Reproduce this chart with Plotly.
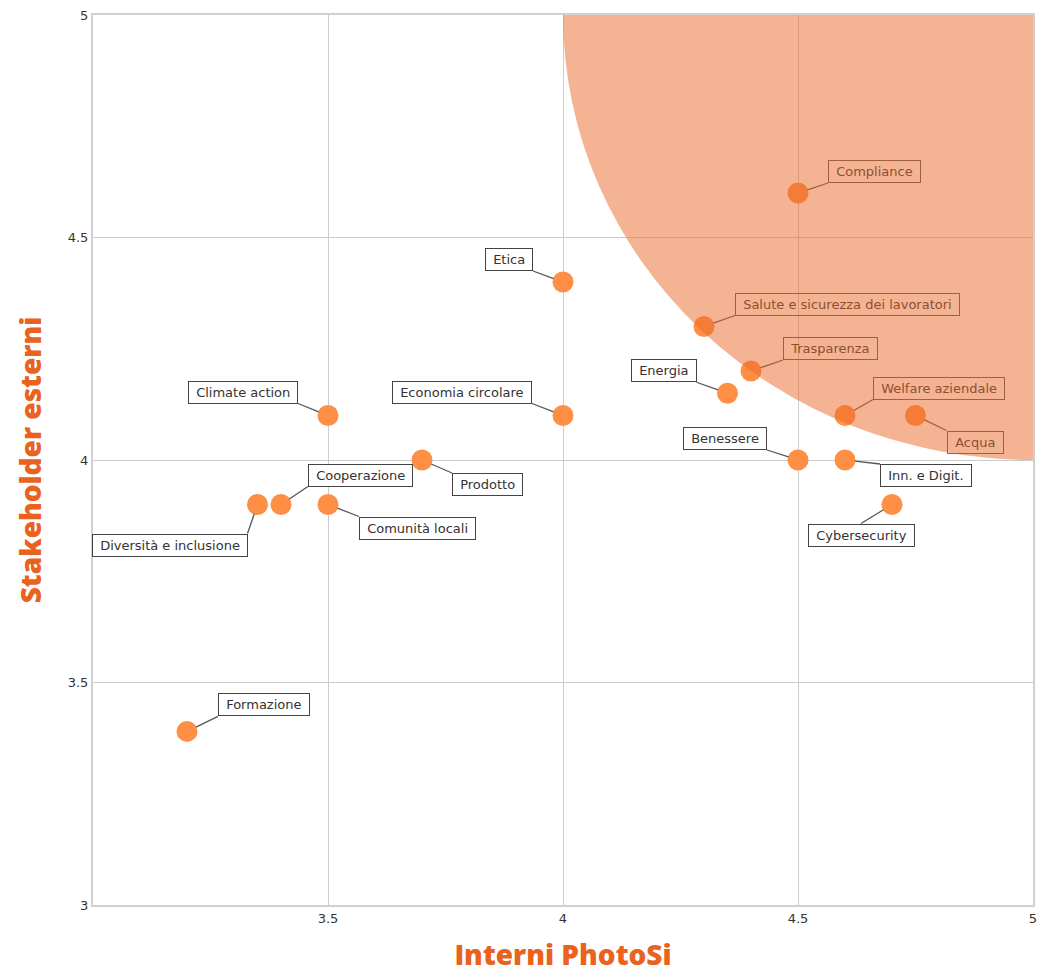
import plotly.graph_objects as go

# Material topics: internal score (x) vs external stakeholder score (y)
topics = [
    "Compliance", "Etica", "Salute e sicurezza dei lavoratori", "Trasparenza",
    "Energia", "Welfare aziendale", "Acqua", "Benessere", "Inn. e Digit.",
    "Cybersecurity", "Climate action", "Economia circolare", "Prodotto",
    "Cooperazione", "Diversità e inclusione", "Comunità locali", "Formazione",
]
interni = [4.5, 4.0, 4.3, 4.4, 4.35, 4.6, 4.75, 4.5, 4.6,
           4.7, 3.5, 4.0, 3.7, 3.4, 3.35, 3.5, 3.2]
esterni = [4.6, 4.4, 4.3, 4.2, 4.15, 4.1, 4.1, 4.0, 4.0,
           3.9, 4.1, 4.1, 4.0, 3.9, 3.9, 3.9, 3.39]

x_ticks = [3.5, 4, 4.5, 5]
y_ticks = [3, 3.5, 4, 4.5, 5]

# label placement: (anchor x, anchor y, offset px x, offset px y)
label_pos = {
    "Compliance": ("left", "bottom", 30, -10),
    "Etica": ("right", "bottom", -30, -11),
    "Salute e sicurezza dei lavoratori": ("left", "bottom", 31, -11),
    "Trasparenza": ("left", "bottom", 32, -11),
    "Energia": ("right", "bottom", -31, -11),
    "Welfare aziendale": ("left", "bottom", 28, -16),
    "Acqua": ("left", "top", 31, 15),
    "Benessere": ("right", "bottom", -31, -10),
    "Inn. e Digit.": ("left", "top", 35, 4),
    "Cybersecurity": ("center", "top", -31, 19),
    "Climate action": ("right", "bottom", -30, -12),
    "Economia circolare": ("right", "bottom", -31, -12),
    "Prodotto": ("left", "top", 30, 13),
    "Cooperazione": ("left", "bottom", 27, -18),
    "Diversità e inclusione": ("right", "top", -10, 29),
    "Comunità locali": ("left", "top", 31, 12),
    "Formazione": ("left", "bottom", 31, -15),
}

# labels lying in the highlighted priority zone get a tinted look
in_zone = {"Compliance", "Salute e sicurezza dei lavoratori", "Trasparenza",
           "Welfare aziendale", "Acqua"}

fig = go.Figure()
fig.add_trace(go.Scatter(
    x=interni, y=esterni, mode="markers", text=topics,
    marker=dict(size=21, color="#FF8F45"),
    hoverinfo="text", showlegend=False,
))

# priority zone: unit circle around (5, 5), clipped to the plot area
fig.add_shape(type="circle", xref="x", yref="y", x0=4, y0=4, x1=6, y1=6,
              fillcolor="#EA6A2A", opacity=0.5, line=dict(width=0),
              layer="above")

for name, xv, yv in zip(topics, interni, esterni):
    xa, ya, ax, ay = label_pos[name]
    tinted = name in in_zone
    fig.add_annotation(
        x=xv, y=yv, text=" " + name + " ", xref="x", yref="y",
        showarrow=True, arrowhead=0, arrowwidth=1.3,
        arrowcolor="#A0603F" if tinted else "#555555",
        standoff=10, ax=ax, ay=ay, xanchor=xa, yanchor=ya,
        font=dict(family="DejaVu Sans", size=13,
                  color="#8E4F30" if tinted else "#333333"),
        bgcolor="rgba(0,0,0,0)" if tinted else "#FFFFFF",
        bordercolor="#A0603F" if tinted else "#444444",
        borderwidth=1, borderpad=3,
    )

title_font = dict(family="Open Sans", size=28, color="#E9621E", weight=800)
fig.update_xaxes(
    range=[3, 5], tickvals=x_ticks, ticktext=[str(v) for v in x_ticks],
    showgrid=True, gridcolor="#CCCCCC", gridwidth=1, zeroline=False,
    showline=True, linecolor="#D0D0D0", linewidth=2, mirror=True,
    ticks="", tickfont=dict(family="DejaVu Sans", size=13, color="#333333"),
    title=dict(text="Interni PhotoSi", font=title_font, standoff=29),
    automargin=False,
)
fig.update_yaxes(
    range=[3, 5], tickvals=y_ticks, ticktext=[str(v) for v in y_ticks],
    showgrid=True, gridcolor="#CCCCCC", gridwidth=1, zeroline=False,
    showline=True, linecolor="#D0D0D0", linewidth=2, mirror=True,
    ticks="", tickfont=dict(family="DejaVu Sans", size=13, color="#333333"),
    title=dict(text="Stakeholder esterni", font=title_font, standoff=18),
    automargin=False,
)
fig.update_layout(
    width=1055, height=973,
    margin=dict(l=93, r=22, t=15, b=68),
    plot_bgcolor="#FFFFFF", paper_bgcolor="#FFFFFF",
    hovermode="closest",
)

fig.write_html("out.html")
